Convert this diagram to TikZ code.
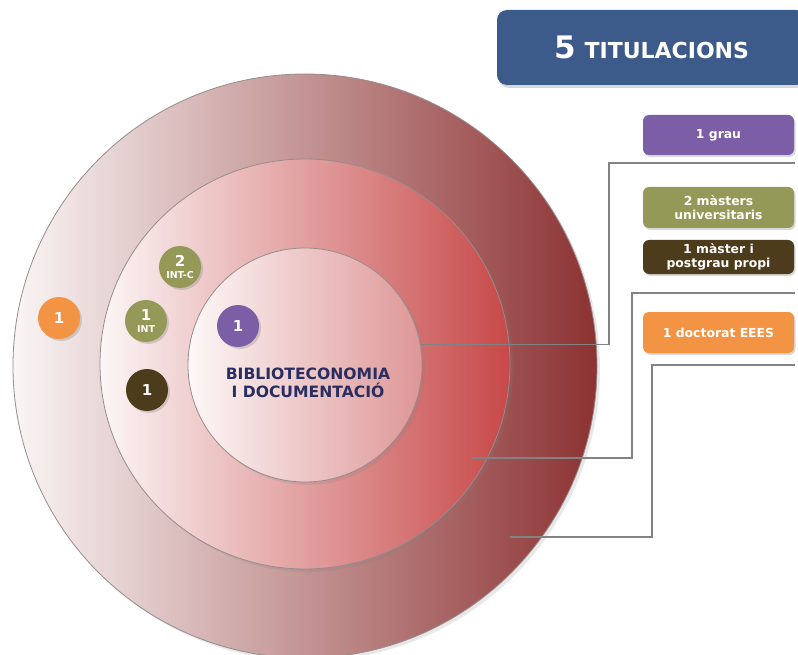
\documentclass[tikz,border=0pt]{standalone}
\usepackage{fontspec}
\setmainfont{DejaVu Sans}
\usetikzlibrary{shadows}
\definecolor{titleblue}{RGB}{60,90,138}
\definecolor{gpurple}{RGB}{124,94,166}
\definecolor{golive}{RGB}{148,153,88}
\definecolor{gbrown}{RGB}{76,60,28}
\definecolor{gorange}{RGB}{242,148,68}
\definecolor{navy}{RGB}{40,46,98}
\definecolor{ringline}{RGB}{150,140,140}
\definecolor{connline}{RGB}{130,130,130}
\definecolor{outerL}{RGB}{250,245,245}
\definecolor{outerR}{RGB}{140,50,50}
\definecolor{midL}{RGB}{252,246,246}
\definecolor{midR}{RGB}{200,72,72}
\definecolor{innerL}{RGB}{253,248,248}
\definecolor{innerR}{RGB}{222,150,150}
\tikzset{
  ring/.style={circle, draw=ringline, line width=0.8pt, inner sep=0pt,
    drop shadow={shadow xshift=3pt, shadow yshift=-3pt, opacity=0.18}},
  badge/.style={circle, minimum size=42pt, inner sep=0pt, text=white,
    font=\bfseries\fontsize{15}{11.5}\selectfont, align=center,
    drop shadow={shadow xshift=2pt, shadow yshift=-2pt, opacity=0.3}},
  labelbox/.style={rounded corners=6pt, minimum width=151pt, text=white,
    font=\bfseries\fontsize{12.4}{13.5}\selectfont, align=center, inner sep=0pt,
    drop shadow={shadow xshift=1.5pt, shadow yshift=-2pt, opacity=0.3}},
  titlebox/.style={rounded corners=10pt, fill=titleblue, minimum width=309pt,
    minimum height=75pt, text=white, inner sep=0pt, font=\bfseries,
    drop shadow={shadow xshift=2pt, shadow yshift=-3pt, opacity=0.3}},
  conn/.style={draw=connline, line width=1.2pt},
}
\newcommand{\badgesub}[1]{{\bfseries\fontsize{9.5}{10}\selectfont #1}}
\begin{document}
\begin{tikzpicture}[x=1pt,y=-1pt]
\useasboundingbox (0,0) rectangle (798,655);
\clip (0,0) rectangle (798,655);
\fill[white] (0,0) rectangle (798,655);
% rings
\node[ring, minimum size=584pt, left color=outerL, right color=outerR] (outer) at (305,366) {};
\node[ring, minimum size=410pt, left color=midL, right color=midR] (middle) at (305,364) {};
\node[ring, minimum size=234pt, left color=innerL, right color=innerR] (inner) at (305,365) {};
% centre text
\node[font=\bfseries\fontsize{15.6}{18}\selectfont, text=navy, align=center] (bd) at (308,383) {BIBLIOTECONOMIA\\I DOCUMENTACIÓ};
% badges
\node[badge, fill=gorange] (borange) at (59,318) {1};
\node[badge, fill=golive] (bintc) at (180,267) {2\\\badgesub{INT-C}};
\node[badge, fill=golive] (bint) at (146,321) {1\\\badgesub{INT}};
\node[badge, fill=gbrown] (bbrown) at (147,390) {1};
\node[badge, fill=gpurple] (bpurple) at (238,326) {1};
% title
\node[titlebox] (title) at (651.5,47.5) {{\fontsize{31}{31}\selectfont 5}\hspace{9pt}{\fontsize{22}{22}\selectfont TITULACIONS}};
% label boxes
\node[labelbox, fill=gpurple, minimum height=40pt] (l1) at (718.5,135) {1 grau};
\node[labelbox, fill=golive, minimum height=41pt] (l2) at (718.5,207.5) {2 màsters\\universitaris};
\node[labelbox, fill=gbrown, minimum height=34pt] (l3) at (718.5,257) {1 màster i\\postgrau propi};
\node[labelbox, fill=gorange, minimum height=41pt] (l4) at (718.5,332.5) {1 doctorat EEES};
% connectors
\coordinate (k1) at (609,163); \coordinate (e1) at (795,163);
\coordinate (s2) at (472,458); \coordinate (k2) at (632,293); \coordinate (e2) at (795,293);
\coordinate (s3) at (510,537); \coordinate (k3) at (652,365); \coordinate (e3) at (795,365);
\draw[conn] (inner.10) -| (k1) -- (e1);
\draw[conn] (s2) -| (k2) -- (e2);
\draw[conn] (s3) -| (k3) -- (e3);
\end{tikzpicture}
\end{document}
